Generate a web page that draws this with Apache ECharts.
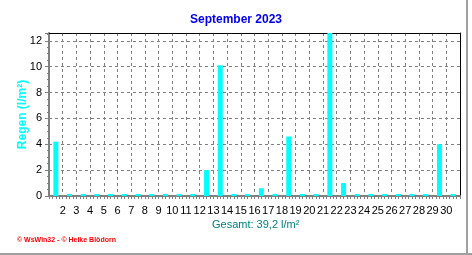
<!DOCTYPE html>
<html><head><meta charset="utf-8">
<script src="https://cdn.jsdelivr.net/npm/echarts@6/dist/echarts.min.js"></script>
<style>html,body{margin:0;padding:0;background:#fff}#c{width:472px;height:255px}</style>
</head><body><div id="c"></div>
<script>
const titleText = 'September 2023';
const yAxisName = 'Regen (l/m²)';
const footerText = '© WsWin32 - © Heike Blödorn';
const days = [1,2,3,4,5,6,7,8,9,10,11,12,13,14,15,16,17,18,19,20,21,22,23,24,25,26,27,28,29,30];
const rain = [4.2,0,0,0,0,0,0,0,0,0,0,2.0,10.1,0,0,0.6,0,4.6,0,0,12.7,1.0,0,0,0,0,0,0,4.0,0];
const yTicks = [0,2,4,6,8,10,12];

const total = rain.reduce((a,b)=>a+b,0);
const totalText = 'Gesamt: ' + total.toFixed(1).replace('.', ',') + ' l/m²';
const FONT = '"Liberation Sans", Arial, sans-serif';

const chart = echarts.init(document.getElementById('c'), null, {renderer:'canvas'});
const GRAY = '#808080';
chart.setOption({
  animation: false,
  backgroundColor: '#fff',
  title: [
    {text: titleText, left: 'center', top: 14, padding: 0,
     textStyle: {fontFamily: FONT, fontSize: 12, fontWeight: 'bold', color: '#0000ee'}},
    {text: totalText, left: 212, top: 219, padding: 0,
     textStyle: {fontFamily: FONT, fontSize: 11, fontWeight: 'normal', color: '#008080'}},
    {text: footerText, left: 17, top: 237, padding: 0,
     textStyle: {fontFamily: FONT, fontSize: 7, fontWeight: 'bold', color: '#ff0000'}}
  ],
  graphic: [
    {type: 'line', shape: {x1: 467, y1: 0, x2: 467, y2: 255}, style: {stroke: '#a0a0a0', lineWidth: 2}},
    {type: 'line', shape: {x1: 0, y1: 254, x2: 472, y2: 254}, style: {stroke: '#a0a0a0', lineWidth: 2}}
  ],
  grid: {left: 49, top: 33, width: 411, height: 163, containLabel: false},
  xAxis: [
    {type: 'value', min: 0, max: days.length, interval: 1,
     axisLine: {show: true, lineStyle: {color: GRAY, width: 2}},
     axisTick: {show: true, length: 3, lineStyle: {color: GRAY}},
     minorTick: {show: true, splitNumber: 4, length: 3, lineStyle: {color: GRAY}},
     splitLine: {show: true, lineStyle: {color: GRAY, type: [3,3], width: 1}},
     axisLabel: {margin: 9, fontFamily: FONT, fontSize: 11, color: '#000',
       showMinLabel: false, showMaxLabel: false,
       formatter: v => (v >= 1 && v < days.length) ? String(days[v]) : ''}},
    {type: 'value', position: 'top', min: 0, max: days.length,
     axisLine: {show: true, onZero: false, lineStyle: {color: '#000', width: 1}},
     axisTick: {show: false}, axisLabel: {show: false}, splitLine: {show: false}}
  ],
  yAxis: [
    {type: 'value', min: 0, max: 12.6, interval: 2,
     name: yAxisName, nameLocation: 'middle', nameGap: 20, nameRotate: 90, nameMoveOverlap: false,
     nameTextStyle: {fontFamily: FONT, fontSize: 12, fontWeight: 'bold', color: '#00ffff'},
     axisLine: {show: true, lineStyle: {color: GRAY, width: 2}},
     axisTick: {show: true, length: 4, lineStyle: {color: GRAY}},
     minorTick: {show: true, splitNumber: 4, length: 2, lineStyle: {color: GRAY}},
     splitLine: {show: true, lineStyle: {color: GRAY, type: [3,3], width: 1}},
     axisLabel: {margin: 7, fontFamily: FONT, fontSize: 11, color: '#000',
       formatter: v => yTicks.includes(v) ? String(v) : ''}},
    {type: 'value', position: 'right', min: 0, max: 12.6,
     axisLine: {show: true, onZero: false, lineStyle: {color: '#000', width: 1}},
     axisTick: {show: false}, axisLabel: {show: false}, splitLine: {show: false}}
  ],
  series: [{
    type: 'bar', xAxisIndex: 0, yAxisIndex: 0,
    data: days.map((d, i) => [d - 0.5, rain[i]]),
    barWidth: 5, barMinHeight: 2,
    itemStyle: {color: '#00ffff'},
    clip: true
  }]
});
</script></body></html>
